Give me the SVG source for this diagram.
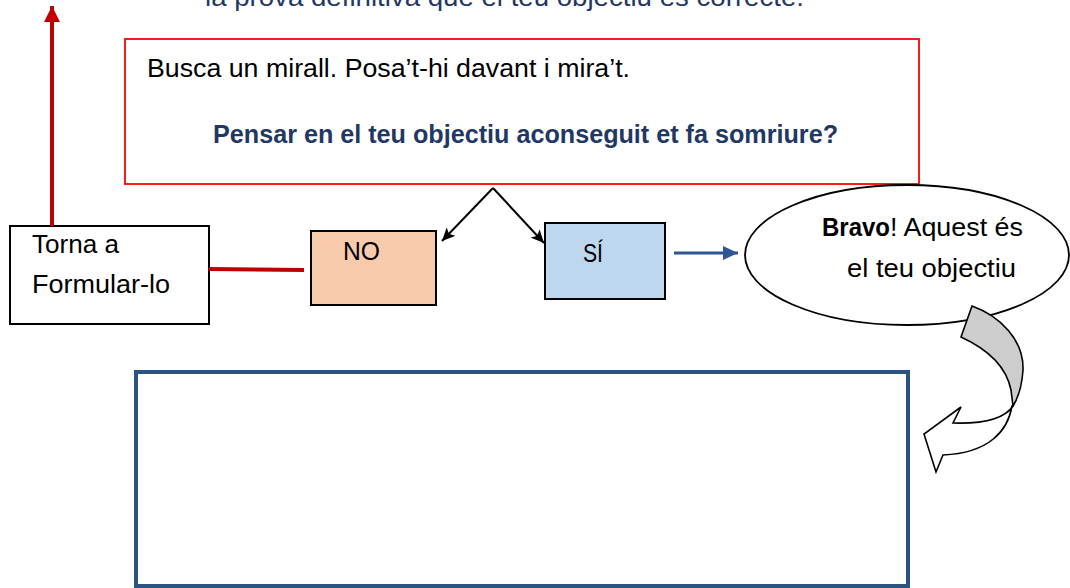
<svg xmlns="http://www.w3.org/2000/svg" width="1070" height="588" viewBox="0 0 1070 588">
<style>
  .t { font-family: "Liberation Sans", Arial, sans-serif; font-size: 25px; fill: #000; }
  .navy { fill: #1f3864; }
  .b { font-weight: bold; }
  .box { stroke: #000; stroke-width: 2; }
  .blk { stroke: #000; stroke-width: 2; fill: none; }
  .red { stroke: #c00000; stroke-width: 4; fill: none; }
  .blu { stroke: #2f5597; stroke-width: 3; fill: none; }
</style>
<defs>
  <marker id="mBlack" markerUnits="userSpaceOnUse" markerWidth="14" markerHeight="12" refX="13" refY="6" orient="auto">
    <path d="M0,0 L13,6 L0,12 L3,6 z" fill="#000"/>
  </marker>
  <marker id="mBlue" markerUnits="userSpaceOnUse" markerWidth="16" markerHeight="14" refX="15" refY="7" orient="auto">
    <path d="M0,0 L15,7 L0,14 z" fill="#2f5597"/>
  </marker>
  <marker id="mRed" markerUnits="userSpaceOnUse" markerWidth="17" markerHeight="16" refX="16" refY="8" orient="auto">
    <path d="M0,0 L16,8 L0,16 z" fill="#c00000"/>
  </marker>
</defs>
<rect width="1070" height="588" fill="#fff"/>

<text id="title" class="t navy" x="205" y="6" textLength="599" lengthAdjust="spacingAndGlyphs">la prova definitiva que el teu objectiu és correcte.</text>

<g id="question">
  <rect x="125" y="39" width="794" height="145" fill="#fff" stroke="#ff0000" stroke-width="1.8"/>
  <text class="t" x="147" y="77" textLength="483" lengthAdjust="spacingAndGlyphs">Busca un mirall. Posa’t-hi davant i mira’t.</text>
  <text class="t navy b" x="213" y="143" textLength="625" lengthAdjust="spacingAndGlyphs">Pensar en el teu objectiu aconseguit et fa somriure?</text>
</g>

<g id="retry">
  <rect class="box" x="10" y="226" width="199" height="98" fill="#fff"/>
  <text class="t" x="32" y="253" textLength="87" lengthAdjust="spacingAndGlyphs">Torna a</text>
  <text class="t" x="32" y="293" textLength="138" lengthAdjust="spacingAndGlyphs">Formular-lo</text>
</g>

<g id="no">
  <rect class="box" x="311" y="231" width="125" height="74" fill="#f8cbad"/>
  <text class="t" x="343" y="260" textLength="37" lengthAdjust="spacingAndGlyphs">NO</text>
</g>

<g id="yes">
  <rect class="box" x="545" y="223" width="120" height="76" fill="#bdd7ee"/>
  <text class="t" x="583" y="262" textLength="20" lengthAdjust="spacingAndGlyphs">SÍ</text>
</g>

<g id="bravo">
  <ellipse cx="907" cy="255" rx="162" ry="70" fill="#fff" stroke="#000" stroke-width="1.8"/>
  <text class="t b" x="822" y="236" textLength="68" lengthAdjust="spacingAndGlyphs">Bravo</text>
  <text class="t" x="890" y="236" textLength="133" lengthAdjust="spacingAndGlyphs">! Aquest és</text>
  <text class="t" x="847" y="277" textLength="169" lengthAdjust="spacingAndGlyphs">el teu objectiu</text>
</g>

<g id="curved-arrow" stroke="#000" stroke-width="1.6" stroke-linejoin="miter">
  <path d="M1013,406 C1005,418 985,424 953,423 L961,407 L924,434 L936,472 L943,455 C990,453 1008,430 1012,406 Z" fill="#fff"/>
  <path d="M961,337 L972,306 C1000,316 1024,340 1023,370 C1022,385 1018,398 1013,406 L1011,390 C1006,365 985,348 961,337 Z" fill="#cdcdcd"/>
</g>

<g id="answer">
  <rect x="136" y="372" width="772" height="214" fill="#fff" stroke="#2b5580" stroke-width="4"/>
</g>

<g id="connectors">
  <line class="blk" x1="493" y1="188" x2="442" y2="241" marker-end="url(#mBlack)"/>
  <line class="blk" x1="493" y1="188" x2="544" y2="243" marker-end="url(#mBlack)"/>
  <line class="blu" x1="674" y1="253" x2="738" y2="253" marker-end="url(#mBlue)"/>
  <line class="red" x1="209" y1="269" x2="304" y2="270"/>
  <line class="red" x1="52" y1="226" x2="52" y2="6" marker-end="url(#mRed)"/>
</g>
</svg>
